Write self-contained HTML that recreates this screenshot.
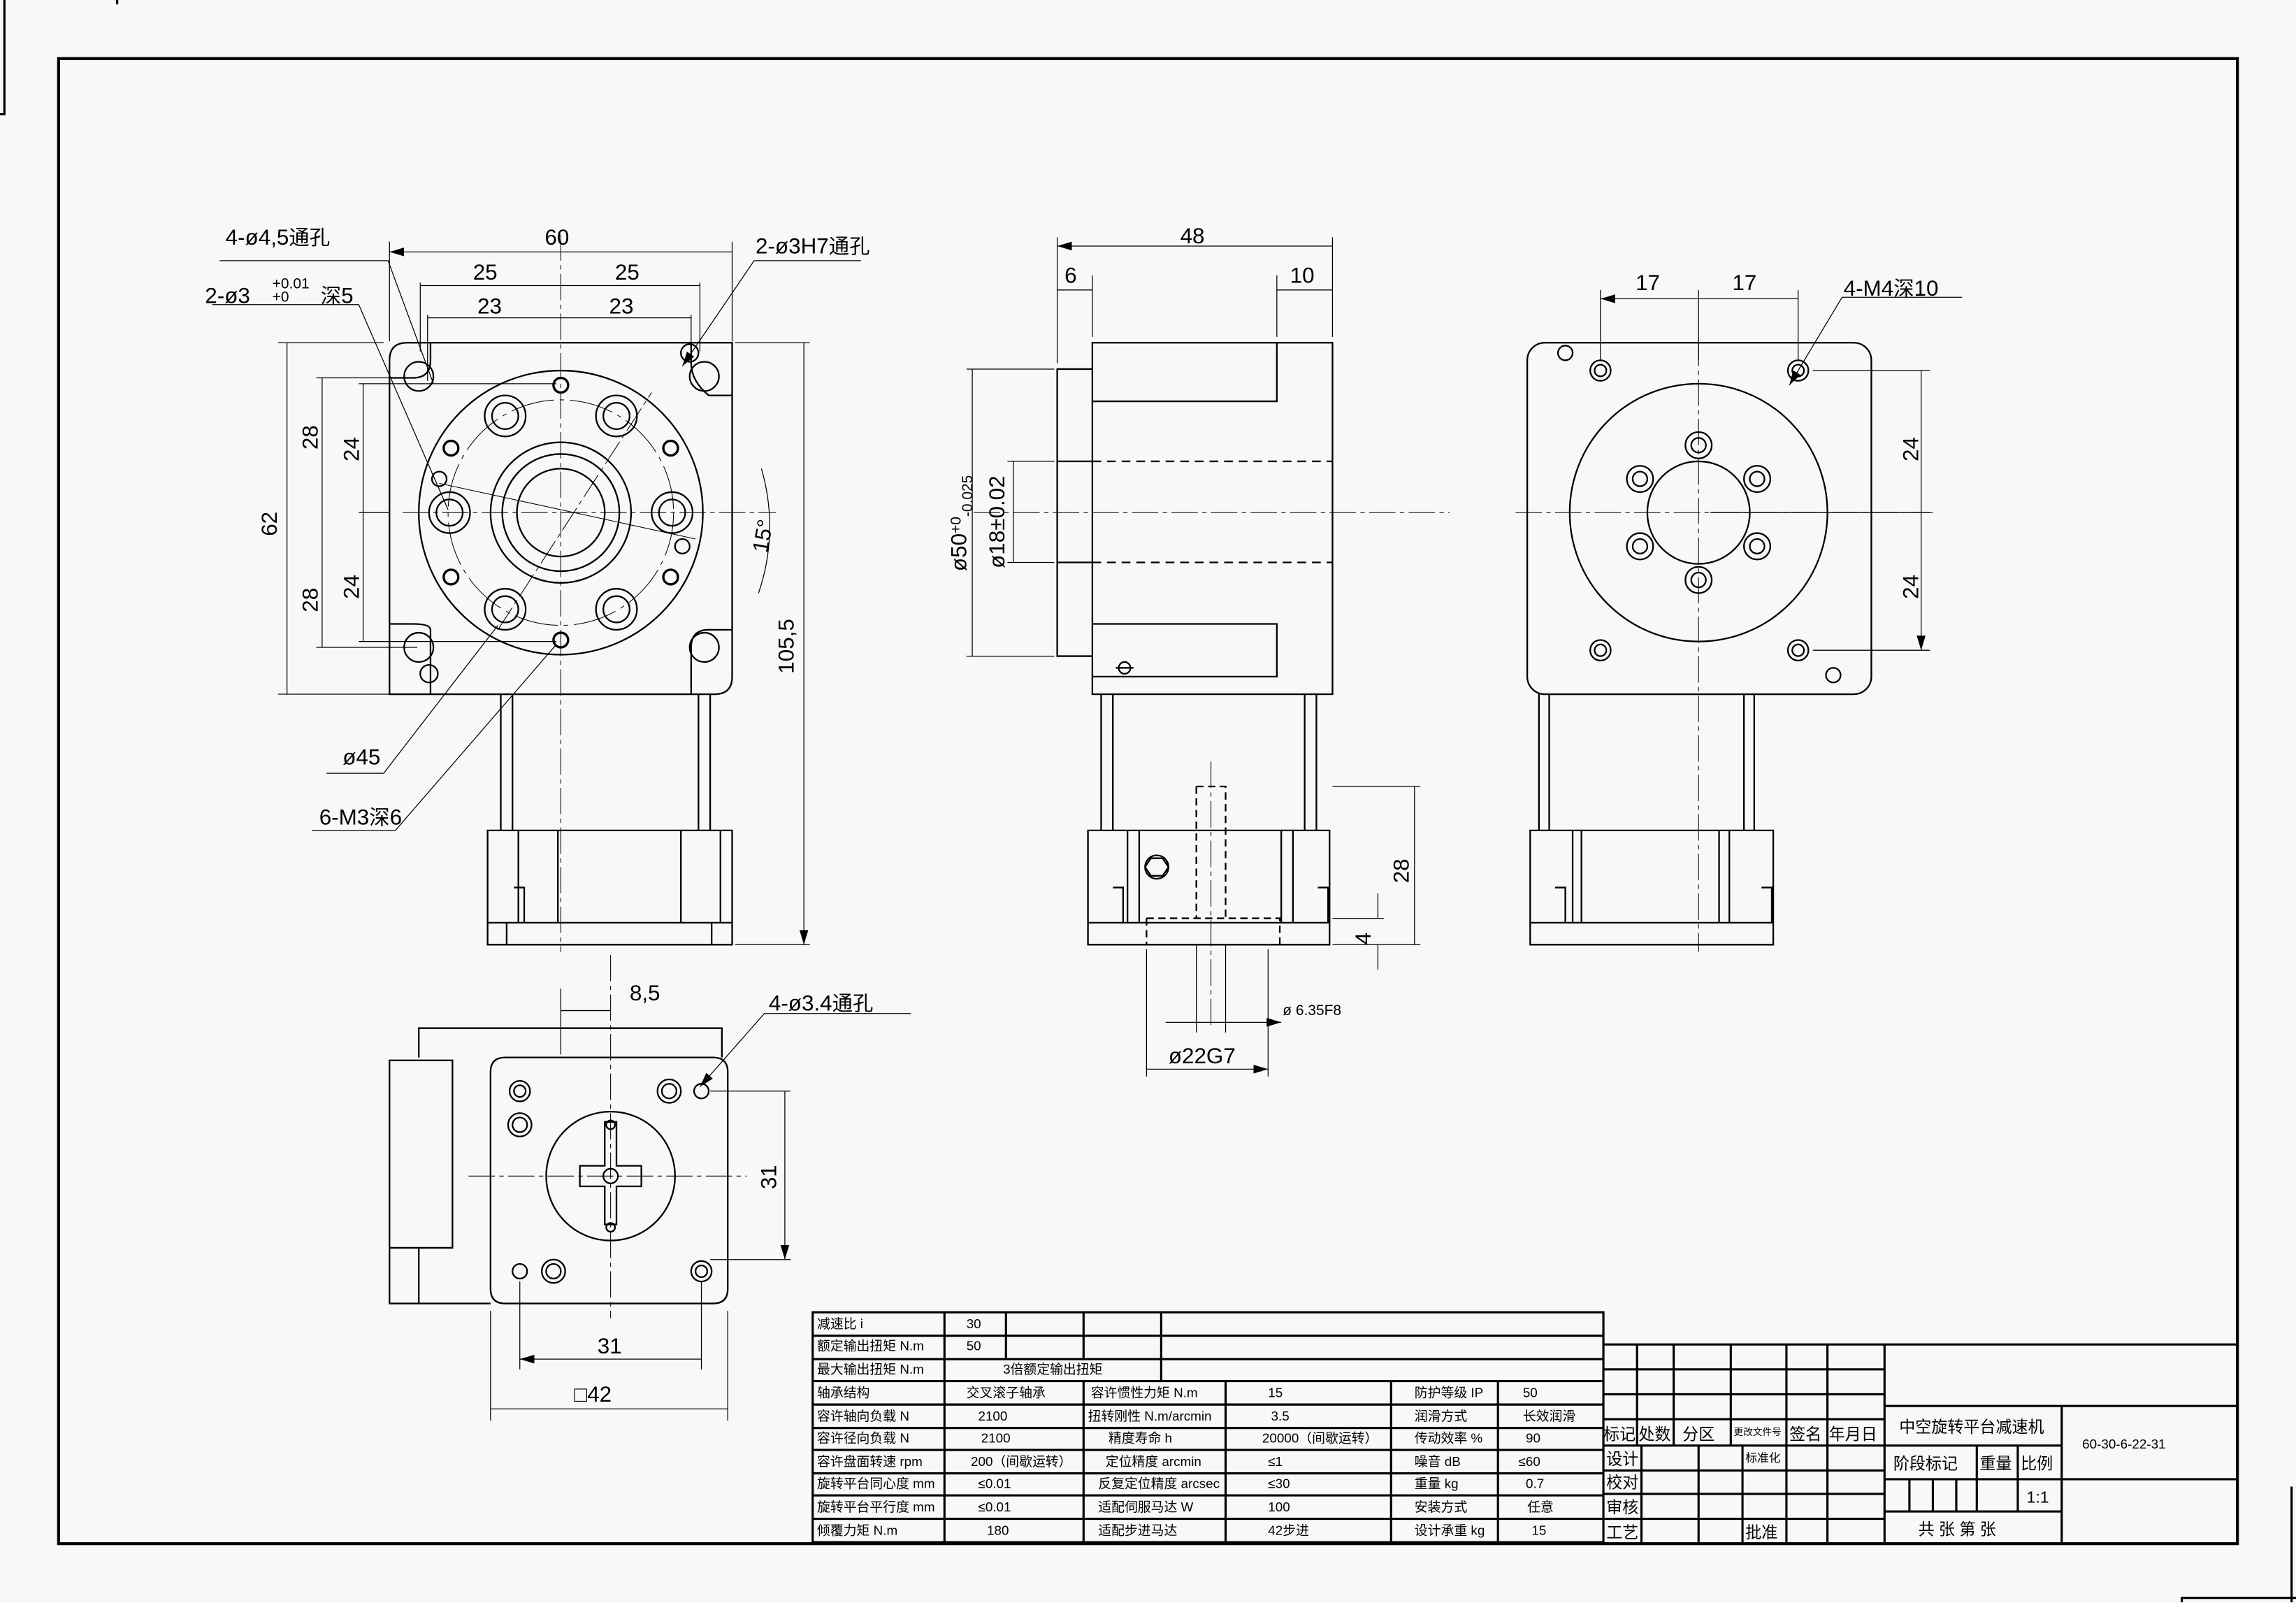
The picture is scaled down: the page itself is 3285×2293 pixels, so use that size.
<!DOCTYPE html>
<html><head><meta charset="utf-8"><style>
html,body{margin:0;padding:0;background:#f7f8f7}
svg{display:block}
text{font-family:"Liberation Sans","Noto Sans CJK SC",sans-serif;fill:#000}
.d{font-family:"DejaVu Sans Mono","Liberation Mono","Noto Sans CJK SC",monospace;fill:#444;font-size:15px}
.t{font-size:9px}
</style></head><body>
<svg width="3285" height="2293" viewBox="0 0 1568 1094.5" xmlns="http://www.w3.org/2000/svg">
<defs><marker id="a" markerWidth="10" markerHeight="6" refX="10" refY="3" orient="auto-start-reverse" markerUnits="userSpaceOnUse"><path d="M0,0L10,3L0,6z" fill="#000"/></marker></defs>
<rect width="1568" height="1095" fill="#f7f8f7"/>
<g fill="none" stroke="#000">
<path d="M0,78H3V0M80,0V3" stroke-width="1.5"/>
<path d="M1490,1094V1091H1568M1565,1094V1015" stroke-width="1.5"/>
<rect x="40" y="40" width="1488" height="1014" stroke-width="2"/>
</g>
<!-- View 1 -->
<g fill="none" stroke="#000" stroke-width="1.1">
<path d="M266,246Q266,234 278,234H500V462Q500,474 488,474H266Z"/>
<path d="M266,258H282Q294,258 294,246V234M294,474V430Q294,426 282,426H266M472,234V248Q472,260 484,270H500M500,430H484Q472,430 472,442V474"/>
<circle cx="383" cy="350" r="97"/><circle cx="383" cy="350" r="48"/><circle cx="383" cy="350" r="40"/><circle cx="383" cy="350" r="30"/>
<circle cx="307" cy="350" r="14"/><circle cx="307" cy="350" r="9"/><circle cx="459" cy="350" r="14"/><circle cx="459" cy="350" r="9"/>
<circle cx="345" cy="284" r="14"/><circle cx="345" cy="284" r="9"/><circle cx="421" cy="284" r="14"/><circle cx="421" cy="284" r="9"/>
<circle cx="345" cy="416" r="14"/><circle cx="345" cy="416" r="9"/><circle cx="421" cy="416" r="14"/><circle cx="421" cy="416" r="9"/>
<g stroke-width="1.6"><circle cx="383" cy="263" r="5"/><circle cx="383" cy="437" r="5"/><circle cx="308" cy="306" r="5"/><circle cx="458" cy="306" r="5"/><circle cx="308" cy="394" r="5"/><circle cx="458" cy="394" r="5"/></g>
<circle cx="300" cy="327" r="5"/><circle cx="466" cy="373" r="5"/>
<circle cx="286" cy="257" r="10"/><circle cx="481" cy="257" r="10"/><circle cx="286" cy="442" r="10"/><circle cx="481" cy="442" r="10"/>
<circle cx="471" cy="241" r="6"/><circle cx="293" cy="460" r="6"/>
<circle cx="383" cy="350" r="77" stroke-width=".5" stroke-dasharray="30,4,3,4"/>
<path d="M342,474V567M350,474V567M477,474V567M485,474V567"/>
<path d="M333,567H500V645H333ZM354,567V630M381,567V630H354M465,567V630H492V567M333,630H500M346,630V645M486,630V645M351,606H358V630"/>
<path d="M383,160V650M275,350H530M340,430L445,268" stroke-width=".5" stroke-dasharray="18,3,3,3"/>
<path d="M300,330L475,368" stroke-width=".5"/>
</g>
<g fill="none" stroke="#000" stroke-width=".6">
<path d="M266,233V165M500,233V165M287,240V193M478,240V193M292,260V215M472,240V215M190,234H262M190,474H290M216,258H283M216,442H285M245,262H380M245,438H380M245,350H266M502,234H553M502,645H553"/>
<path d="M266,172H500M287,195H383M383,195H478M292,217H383M383,217H472M196,234V474M220,258V350M220,350V442M248,262V350M248,350V438M549,234V645" marker-start="url(#a)" marker-end="url(#a)"/>
<path d="M150,178H265L296,262M145,208H245L306,348M223,528H262L340,427M213,567H270L380,440M588,178H515L466,250" marker-end="url(#a)"/>
<path d="M520,320A140,140 0 0 1 518,405"/>
</g>
<g class="d">
<text x="372" y="167">60</text><text x="323" y="191">25</text><text x="420" y="191">25</text><text x="326" y="214">23</text><text x="416" y="214">23</text>
<text x="189" y="366" transform="rotate(-90 189 366)">62</text>
<text x="217" y="307" transform="rotate(-90 217 307)">28</text><text x="217" y="418" transform="rotate(-90 217 418)">28</text>
<text x="245" y="315" transform="rotate(-90 245 315)">24</text><text x="245" y="409" transform="rotate(-90 245 409)">24</text>
<text x="542" y="460" transform="rotate(-90 542 460)">105,5</text>
<text x="524" y="378" transform="rotate(-80 524 378)">15°</text>
<text x="154" y="167">4-ø4,5<tspan fill="#000" font-size="14">通孔</tspan></text>
<text x="140" y="207">2-ø3</text><text x="186" y="197" font-size="10">+0.01</text><text x="186" y="206" font-size="10">+0</text><text x="219" y="207"><tspan fill="#000" font-size="14">深</tspan>5</text>
<text x="516" y="173">2-ø3H7<tspan fill="#000" font-size="14">通孔</tspan></text>
<text x="234" y="522">ø45</text>
<text x="218" y="563">6-M3<tspan fill="#000" font-size="14">深</tspan>6</text>
</g>
<!-- View 2 -->
<g fill="none" stroke="#000" stroke-width="1.1">
<rect x="746" y="234" width="164" height="240"/>
<path d="M746,252H722V448H746"/>
<path d="M746,274H872V234M746,426H872V462H746M722,315H746M722,384H746"/>
<path d="M746,315H910M746,384H910" stroke-dasharray="6,4"/>
<circle cx="768" cy="456" r="4"/><path d="M762,456H774"/>
<path d="M752,474V567M760,474V567M891,474V567M899,474V567"/>
<path d="M743,567H908V645H743ZM743,630H908M770,567V630M778,567V630M875,567V630M883,567V630M760,606H767V630M900,606H907V630"/>
<path d="M783,627H874V645M783,627V645" stroke-dasharray="5,3"/>
<path d="M817,537H837V627M817,537V627" stroke-dasharray="5,3"/>
<circle cx="790" cy="592" r="8"/><path d="M786,586L794,586L798,592L794,598L786,598L782,592Z"/>
<path d="M665,350H990M827,520V700" stroke-width=".5" stroke-dasharray="18,3,3,3"/>
</g>
<g fill="none" stroke="#000" stroke-width=".6">
<path d="M722,248V162M910,230V162M746,230V188M872,230V188M660,252H720M660,448H720M688,315H720M688,384H720M910,537H970M910,645H970M910,627H945M783,648V735M866,648V735M817,645V705M837,645V705"/>
<path d="M722,168H910M872,198H910M664,252V448M692,315V384M966,537V645M783,730H866" marker-start="url(#a)" marker-end="url(#a)"/>
<path d="M722,198H746M796,698H875" marker-end="url(#a)"/>
<path d="M941,610V627M941,645V662" />
</g>
<g class="d">
<text x="806" y="166">48</text><text x="727" y="193">6</text><text x="881" y="193">10</text>
<text x="660" y="390" transform="rotate(-90 660 390)">ø50<tspan font-size="10" dy="-4">+0</tspan><tspan font-size="10" dy="8">-0.025</tspan></text>
<text x="686" y="388" transform="rotate(-90 686 388)">ø18±0.02</text>
<text x="962" y="603" transform="rotate(-90 962 603)">28</text>
<text x="936" y="645" transform="rotate(-90 936 645)">4</text>
<text x="798" y="726">ø22G7</text>
<text x="876" y="693" font-size="10" fill="#000">ø 6.35F8</text>
</g>
<!-- View 3 -->
<g fill="none" stroke="#000" stroke-width="1.1">
<rect x="1043" y="234" width="235" height="240" rx="12"/>
<circle cx="1160" cy="350" r="88"/><circle cx="1160" cy="350" r="35"/>
<circle cx="1160" cy="304" r="9"/><circle cx="1160" cy="304" r="5"/><circle cx="1160" cy="396" r="9"/><circle cx="1160" cy="396" r="5"/>
<circle cx="1120" cy="327" r="9"/><circle cx="1120" cy="327" r="5"/><circle cx="1200" cy="327" r="9"/><circle cx="1200" cy="327" r="5"/>
<circle cx="1120" cy="373" r="9"/><circle cx="1120" cy="373" r="5"/><circle cx="1200" cy="373" r="9"/><circle cx="1200" cy="373" r="5"/>
<circle cx="1093" cy="253" r="7"/><circle cx="1093" cy="253" r="4"/><circle cx="1228" cy="253" r="7"/><circle cx="1228" cy="253" r="4"/>
<circle cx="1093" cy="444" r="7"/><circle cx="1093" cy="444" r="4"/><circle cx="1228" cy="444" r="7"/><circle cx="1228" cy="444" r="4"/>
<circle cx="1069" cy="241" r="5"/><circle cx="1252" cy="461" r="5"/>
<path d="M1051,474V567M1058,474V567M1191,474V567M1198,474V567"/>
<path d="M1045,567H1211V645H1045ZM1045,630H1211M1074,567V630M1080,567V630M1174,567V630M1181,567V630M1062,606H1069V630M1203,606H1210V630"/>
<path d="M1160,232V650M1035,350H1320" stroke-width=".5" stroke-dasharray="18,3,3,3"/>
</g>
<g fill="none" stroke="#000" stroke-width=".6">
<path d="M1093,246V198M1160,246V198M1228,246V198M1238,253H1318M1238,444H1318M1168,350H1318"/>
<path d="M1093,204H1160M1160,204H1228M1312,253V350M1312,350V444" marker-start="url(#a)" marker-end="url(#a)"/>
<path d="M1340,203H1258L1222,263" marker-end="url(#a)"/>
</g>
<g class="d">
<text x="1117" y="198">17</text><text x="1183" y="198">17</text>
<text x="1259" y="202">4-M4<tspan fill="#000" font-size="14">深</tspan>10</text>
<text x="1310" y="315" transform="rotate(-90 1310 315)">24</text><text x="1310" y="409" transform="rotate(-90 1310 409)">24</text>
</g>
<!-- View 4 -->
<g fill="none" stroke="#000" stroke-width="1.1">
<path d="M345,722H487Q497,722 497,732V880Q497,890 487,890H345Q335,890 335,880V732Q335,722 345,722Z"/>
<path d="M286,722V702H493V722M266,724H309V852H266ZM266,852V890H335M286,852V890"/>
<circle cx="417" cy="803" r="44"/>
<path d="M413,766H421V796H438V810H421V836H413V810H396V796H413Z"/>
<circle cx="417" cy="803" r="5"/><circle cx="417" cy="768" r="3"/><circle cx="417" cy="838" r="3"/>
<circle cx="355" cy="745" r="7"/><circle cx="355" cy="745" r="4"/><circle cx="355" cy="768" r="8"/><circle cx="355" cy="768" r="5"/>
<circle cx="457" cy="745" r="8"/><circle cx="457" cy="745" r="5"/><circle cx="479" cy="745" r="5"/>
<circle cx="479" cy="868" r="7"/><circle cx="479" cy="868" r="4"/><circle cx="378" cy="868" r="8"/><circle cx="378" cy="868" r="5"/><circle cx="355" cy="868" r="5"/>
<path d="M417,652V900M320,803H510" stroke-width=".5" stroke-dasharray="18,3,3,3"/>
</g>
<g fill="none" stroke="#000" stroke-width=".6">
<path d="M355,875V935M479,875V935M335,895V970M497,895V970M485,745H540M485,860H540M383,675V720"/>
<path d="M355,928H479M335,962H497M536,745V860" marker-start="url(#a)" marker-end="url(#a)"/>
<path d="M383,690H417M622,692H522L478,742" marker-end="url(#a)"/>
</g>
<g class="d">
<text x="430" y="683">8,5</text><text x="408" y="924">31</text><text x="392" y="957">□42</text>
<text x="530" y="812" transform="rotate(-90 530 812)">31</text>
<text x="525" y="690">4-ø3.4<tspan fill="#000" font-size="14">通孔</tspan></text>
</g>
<!-- Param table -->
<g fill="none" stroke="#000" stroke-width="1.5">
<rect x="555" y="896" width="540" height="157"/>
<path d="M555,912H1095M555,928H1095M555,943H1095M555,959H1095M555,975H1095M555,990H1095M555,1006H1095M555,1021H1095M555,1037H1095"/>
<path d="M645,896V1053M687,896V928M740,896V928M740,943V1053M793,896V943M837,943V1053M950,943V1053M1023,943V1053"/>
</g>
<g class="t">
<text x="558" y="907">减速比 i</text><text x="660" y="907">30</text>
<text x="558" y="922">额定输出扭矩 N.m</text><text x="660" y="922">50</text>
<text x="558" y="938">最大输出扭矩 N.m</text><text x="685" y="938">3倍额定输出扭矩</text>
<text x="558" y="954">轴承结构</text><text x="660" y="954">交叉滚子轴承</text><text x="745" y="954">容许惯性力矩 N.m</text><text x="866" y="954">15</text><text x="966" y="954">防护等级 IP</text><text x="1040" y="954">50</text>
<text x="558" y="970">容许轴向负载 N</text><text x="668" y="970">2100</text><text x="743" y="970">扭转刚性 N.m/arcmin</text><text x="868" y="970">3.5</text><text x="966" y="970">润滑方式</text><text x="1040" y="970">长效润滑</text>
<text x="558" y="985">容许径向负载 N</text><text x="670" y="985">2100</text><text x="757" y="985">精度寿命 h</text><text x="862" y="985">20000（间歇运转）</text><text x="966" y="985">传动效率 %</text><text x="1042" y="985">90</text>
<text x="558" y="1001">容许盘面转速 rpm</text><text x="663" y="1001">200（间歇运转）</text><text x="755" y="1001">定位精度 arcmin</text><text x="866" y="1001">≤1</text><text x="966" y="1001">噪音 dB</text><text x="1037" y="1001">≤60</text>
<text x="558" y="1016">旋转平台同心度 mm</text><text x="668" y="1016">≤0.01</text><text x="750" y="1016">反复定位精度 arcsec</text><text x="866" y="1016">≤30</text><text x="966" y="1016">重量 kg</text><text x="1042" y="1016">0.7</text>
<text x="558" y="1032">旋转平台平行度 mm</text><text x="668" y="1032">≤0.01</text><text x="750" y="1032">适配伺服马达 W</text><text x="866" y="1032">100</text><text x="966" y="1032">安装方式</text><text x="1043" y="1032">任意</text>
<text x="558" y="1048">倾覆力矩 N.m</text><text x="674" y="1048">180</text><text x="750" y="1048">适配步进马达</text><text x="866" y="1048">42步进</text><text x="966" y="1048">设计承重 kg</text><text x="1046" y="1048">15</text>
</g>
<!-- Title block -->
<g fill="none" stroke="#000" stroke-width="1.5">
<path d="M1095,918H1528M1095,935H1287M1095,952H1287M1095,969H1287M1095,987H1287M1095,1004H1287M1095,1020H1287M1095,1037H1287"/>
<path d="M1118,918V987M1143,918V987M1182,918V987M1220,918V1054M1248,918V1054M1287,918V1054M1121,987V1054M1160,987V1054M1190,987V1054"/>
<path d="M1287,960H1528M1287,987H1408M1408,960V1054M1408,1010H1528M1287,1010H1408M1287,1032H1408M1350,987V1032M1378,987V1032M1304,1010V1032M1320,1010V1032M1336,1010V1032"/>
</g>
<g font-size="11">
<text x="1095" y="983">标记</text><text x="1119" y="983">处数</text><text x="1149" y="983">分区</text><text x="1184" y="980" font-size="6.5">更改文件号</text><text x="1222" y="983">签名</text><text x="1249" y="983">年月日</text>
<text x="1097" y="1000">设计</text><text x="1192" y="998" font-size="8">标准化</text>
<text x="1097" y="1016">校对</text><text x="1097" y="1033">审核</text><text x="1097" y="1050">工艺</text><text x="1192" y="1050">批准</text>
<text x="1297" y="978">中空旋转平台减速机</text>
<text x="1293" y="1003">阶段标记</text><text x="1352" y="1003">重量</text><text x="1380" y="1003">比例</text>
<text x="1384" y="1026">1:1</text>
<text x="1310" y="1048">共  张 第  张</text>
<text x="1422" y="989" font-size="9">60-30-6-22-31</text>
</g>
</svg>
</body></html>
